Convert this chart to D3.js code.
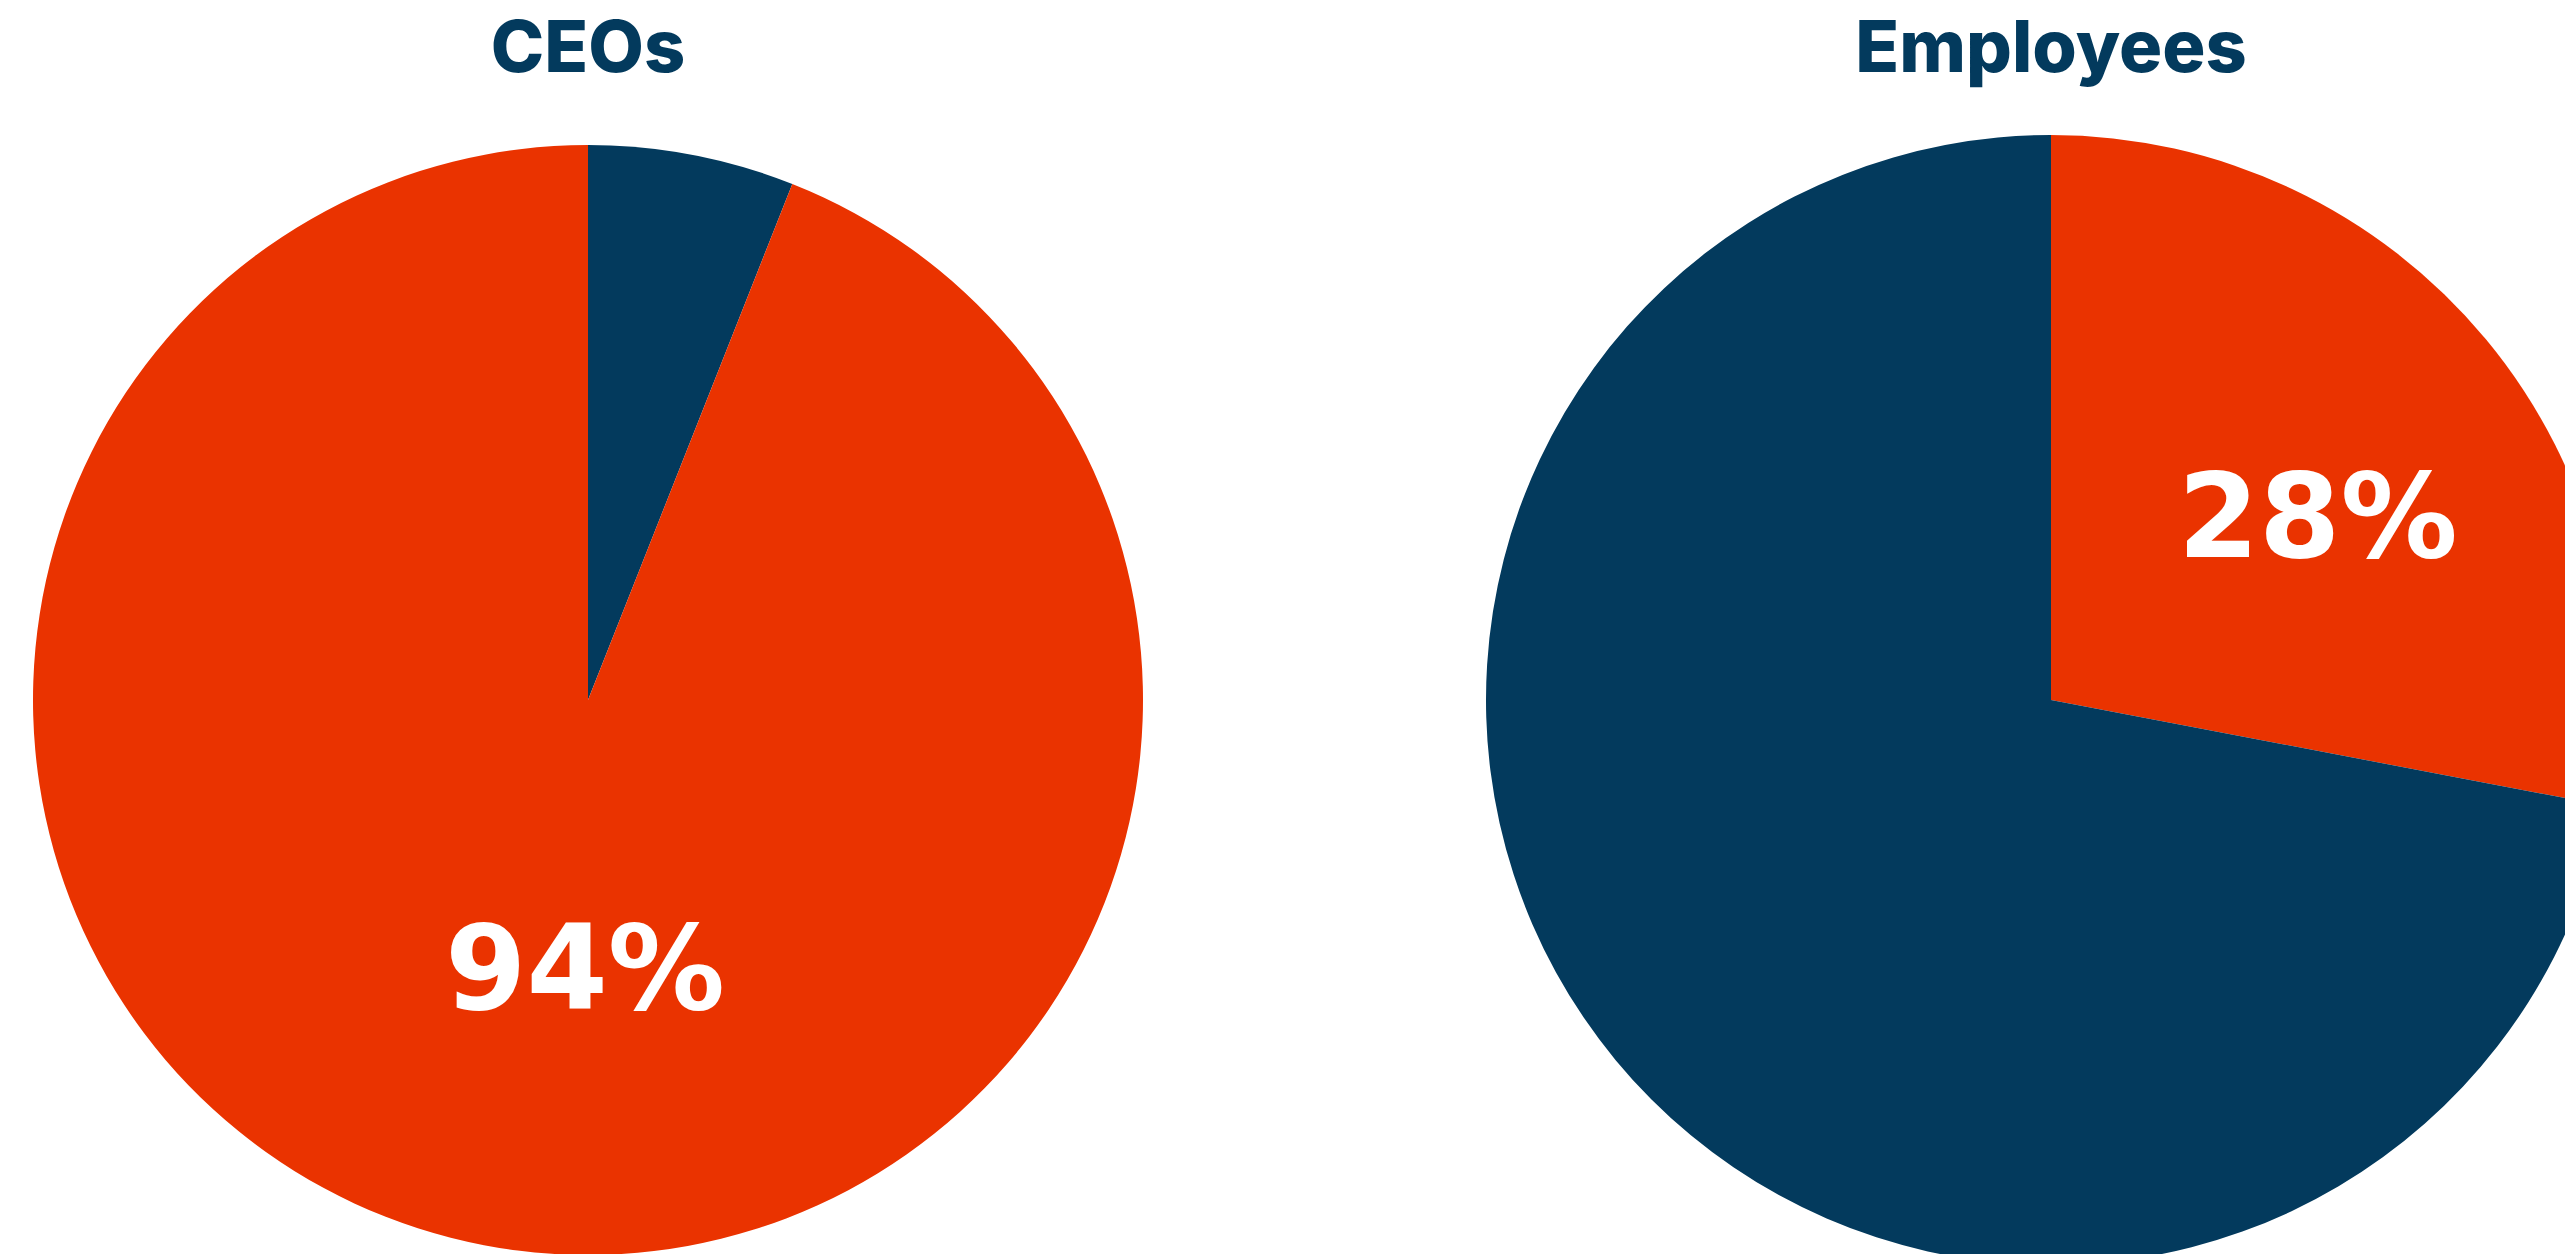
<!DOCTYPE html>
<html>
<head>
<meta charset="utf-8">
<script src="https://cdn.jsdelivr.net/npm/d3@7"></script>
<style>
  html, body { margin: 0; padding: 0; background: #fff; }
  svg { display: block; }
  .title { font-family: Inter, sans-serif; font-weight: 800; fill: #033A5D; }
  .label { font-family: "DejaVu Sans", sans-serif; font-weight: 700; fill: #fff; }
</style>
</head>
<body>
<div id="chart"></div>
<script>
// pie titles and shares (percent), slices listed clockwise from 12 o'clock
const groups = ['CEOs', 'Employees'];
const ceoKeys = ['Navy', 'Orange'];
const ceoValues = [6, 94];
const employeeKeys = ['Orange', 'Navy'];
const employeeValues = [28, 72];
// which slice gets a printed label in each pie
const labelled = ['Orange', 'Orange'];

const width = 2565;
const height = 1254;
const centerY = 700;

const colorScale = d3
  .scaleOrdinal()
  .domain(['Navy', 'Orange'])
  .range(['#033A5D', '#EA3300']);

const svg = d3
  .select('#chart')
  .append('svg')
  .attr('width', width)
  .attr('height', height);

// two pies across the page
const xScale = d3
  .scalePoint()
  .domain(groups)
  .range([588, 2051]);

const pies = [
  { title: groups[0], keys: ceoKeys, values: ceoValues, radius: 555, label: labelled[0] },
  { title: groups[1], keys: employeeKeys, values: employeeValues, radius: 565, label: labelled[1] },
];

const pie = d3
  .pie()
  .sort(null)
  .value((d) => d.value);

const labelShift = [49, -6]; // labels sit a little right of the slice centroid

pies.forEach((p) => {
  const g = svg
    .append('g')
    .attr('transform', `translate(${xScale(p.title)},${centerY})`);

  const arcs = pie(p.keys.map((k, i) => ({ key: k, value: p.values[i] })));

  const arc = d3.arc().innerRadius(0).outerRadius(p.radius);
  const labelArc = d3.arc().innerRadius(p.radius * 0.5).outerRadius(p.radius * 0.5);

  g.selectAll('path')
    .data(arcs)
    .join('path')
    .attr('fill', (d) => colorScale(d.data.key))
    .attr('d', arc);

  g.selectAll('.label')
    .data(arcs.filter((d) => d.data.key === p.label))
    .join('text')
    .attr('class', 'label')
    .attr('transform', (d) => {
      const [x, y] = labelArc.centroid(d);
      return `translate(${x + labelShift[0]},${y + labelShift[1]})`;
    })
    .attr('text-anchor', 'middle')
    .attr('dy', '0.364em')
    .style('font-size', '117px')
    .text((d) => `${d.data.value}%`);

  // title above the pie
  svg
    .append('text')
    .attr('class', 'title')
    .attr('x', xScale(p.title))
    .attr('y', 72)
    .attr('text-anchor', 'middle')
    .style('font-size', '72px')
    .text(p.title);
});
</script>
</body>
</html>
